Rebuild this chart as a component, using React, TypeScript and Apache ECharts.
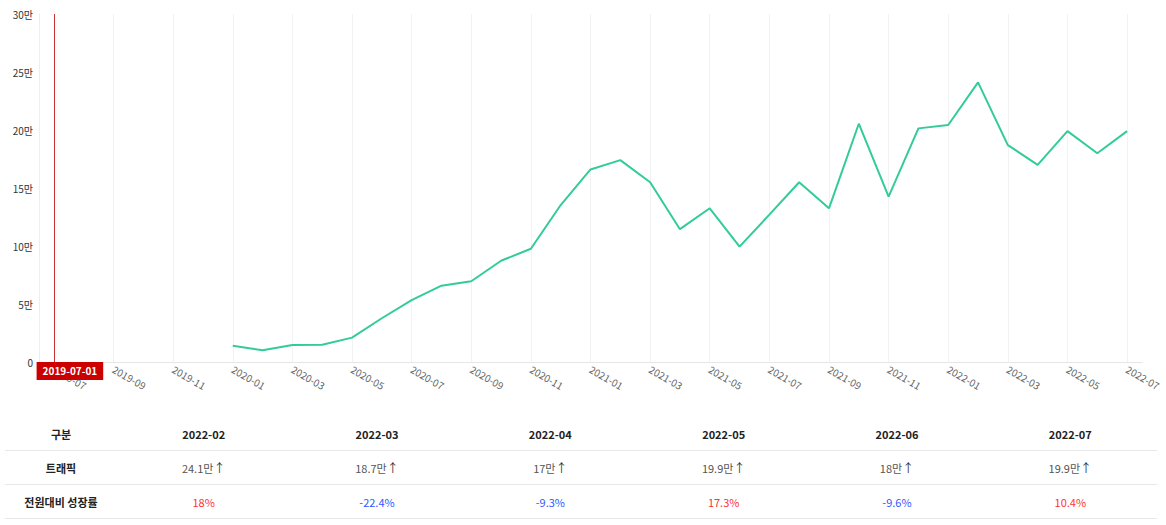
import React, { useEffect, useRef } from "react";
import * as echarts from "echarts";

const months: string[] = [
  "2019-07", "2019-08", "2019-09", "2019-10", "2019-11", "2019-12",
  "2020-01", "2020-02", "2020-03", "2020-04", "2020-05", "2020-06",
  "2020-07", "2020-08", "2020-09", "2020-10", "2020-11", "2020-12",
  "2021-01", "2021-02", "2021-03", "2021-04", "2021-05", "2021-06",
  "2021-07", "2021-08", "2021-09", "2021-10", "2021-11", "2021-12",
  "2022-01", "2022-02", "2022-03", "2022-04", "2022-05", "2022-06", "2022-07",
];

const traffic: (number | null)[] = [
  null, null, null, null, null, null,
  14000, 10200, 14700, 14800, 21000, 37700,
  53400, 65800, 69600, 87300, 97600, 135300,
  166000, 174000, 155000, 114500, 132500, 99500,
  127000, 155000, 132500, 205400, 142500, 201400,
  204300, 241000, 187000, 170000, 199000, 180000, 199000,
];

const markerMonth = "2019-07";
const markerLabel = "2019-07-01";

const tableMonths: string[] = ["2022-02", "2022-03", "2022-04", "2022-05", "2022-06", "2022-07"];
const tableTraffic: string[] = ["24.1", "18.7", "17", "19.9", "18", "19.9"];
const tableGrowth: number[] = [18, -22.4, -9.3, 17.3, -9.6, 10.4];

const FONT = "'Noto Sans CJK KR', 'Noto Sans', sans-serif";

function Chart() {
  const ref = useRef<HTMLDivElement>(null);
  useEffect(() => {
    if (!ref.current) return;
    const chart = echarts.init(ref.current, undefined, { renderer: "svg" });
    chart.setOption({
      animation: false,
      textStyle: { fontFamily: FONT },
      grid: { left: 39, right: 24, top: 14, bottom: 38, containLabel: false },
      xAxis: {
        type: "category",
        data: months,
        boundaryGap: true,
        axisLine: { show: true, lineStyle: { color: "#e6e6e6" } },
        axisTick: { show: false },
        axisLabel: {
          interval: 1,
          rotate: -30,
          fontSize: 10,
          color: "#666",
          margin: 6,
          fontFamily: FONT,
        },
        splitLine: {
          show: true,
          interval: 1,
          alignWithLabel: true,
          lineStyle: { color: "#f2f2f2", width: 1 },
        } as any,
      },
      yAxis: {
        type: "value",
        min: 0,
        max: 300000,
        interval: 50000,
        axisLine: { show: true, lineStyle: { color: "#eeeeee" } },
        axisTick: { show: false },
        splitLine: { show: false },
        axisLabel: {
          fontSize: 10,
          color: "#333",
          margin: 6,
          fontFamily: FONT,
          formatter: (v: number) => (v === 0 ? "0" : v / 10000 + "만"),
        },
      },
      series: [
        {
          type: "line",
          data: traffic,
          showSymbol: false,
          symbol: "none",
          lineStyle: { color: "#33cc99", width: 2 },
          itemStyle: { color: "#33cc99" },
          markLine: {
            silent: true,
            symbol: "none",
            lineStyle: { color: "#c83232", type: "solid", width: 1 },
            label: {
              show: true,
              position: "start",
              formatter: markerLabel,
              backgroundColor: "#cc0000",
              color: "#fff",
              fontWeight: "bold",
              fontSize: 10,
              fontFamily: FONT,
              padding: [4, 6, 4, 6],
              distance: 0,
              offset: [16, 0],
            },
            data: [{ xAxis: markerMonth }],
          },
        },
      ],
    });
    return () => chart.dispose();
  }, []);
  return <div ref={ref} style={{ width: 1166, height: 400 }} />;
}

export default function App() {
  const cellBase: React.CSSProperties = {
    height: 33,
    textAlign: "center",
    verticalAlign: "middle",
    borderBottom: "1px solid #e8e8e8",
    padding: 0,
    fontSize: 11,
  };
  const headBase: React.CSSProperties = {
    ...cellBase,
    fontWeight: "bold",
    color: "#222",
  };
  return (
    <div
      style={{
        position: "fixed",
        left: 0,
        top: 0,
        width: 1166,
        height: 525,
        background: "#fff",
        fontFamily: FONT,
        overflow: "hidden",
      }}
    >
      <Chart />
      <table
        style={{
          position: "absolute",
          left: 5,
          top: 417,
          width: 1152,
          borderCollapse: "collapse",
          tableLayout: "fixed",
        }}
      >
        <colgroup>
          <col style={{ width: 112 }} />
          {tableMonths.map((m) => (
            <col key={m} />
          ))}
        </colgroup>
        <tbody>
          <tr>
            <td style={headBase}>구분</td>
            {tableMonths.map((m) => (
              <td key={m} style={headBase}>{m}</td>
            ))}
          </tr>
          <tr>
            <td style={headBase}>트래픽</td>
            {tableTraffic.map((t, i) => (
              <td key={i} style={{ ...cellBase, color: "#555" }}>
                {t}만<span style={{ color: "#333", fontSize: 12 }}>↑</span>
              </td>
            ))}
          </tr>
          <tr>
            <td style={headBase}>전원대비 성장률</td>
            {tableGrowth.map((g, i) => (
              <td
                key={i}
                style={{ ...cellBase, color: g >= 0 ? "#ff3333" : "#3355ff" }}
              >
                {g}%
              </td>
            ))}
          </tr>
        </tbody>
      </table>
    </div>
  );
}
